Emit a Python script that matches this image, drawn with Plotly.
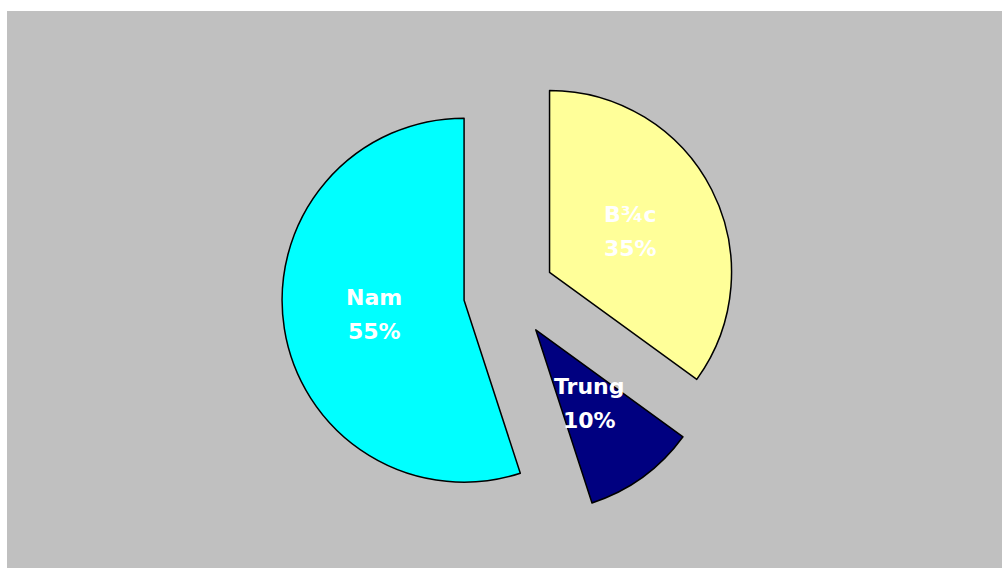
import math
import plotly.graph_objects as go

# Regional shares
regions = ["B¾c", "Trung", "Nam"]
shares = [35, 10, 55]
colors = ["#FFFF99", "#000080", "#00FFFF"]
pulls = [0.25, 0.25, 0.25]

W, H = 1002, 568
dom_x = [0.208, 0.808]
dom_y = [0.0836, 0.8846]

fig = go.Figure(
    go.Pie(
        labels=regions,
        values=shares,
        marker=dict(colors=colors, line=dict(color="black", width=1.5)),
        pull=pulls,
        sort=False,
        direction="clockwise",
        rotation=0,
        textinfo="none",
        hoverinfo="label+percent",
        domain=dict(x=dom_x, y=dom_y),
        showlegend=False,
    )
)

# Label placement follows the pie geometry: centre, radius and slice bisectors
cx = (dom_x[0] + dom_x[1]) / 2 * W
cy = (1 - (dom_y[0] + dom_y[1]) / 2) * H
r = min((dom_x[1] - dom_x[0]) * W, (dom_y[1] - dom_y[0]) * H) / (2 * (1 + max(pulls)))
total = sum(shares)
start = 90.0
font = dict(family="DejaVu Sans", size=22, color="white", weight="bold")
annotations = []
for name, v, p in zip(regions, shares, pulls):
    span = 360.0 * v / total
    mid = math.radians(start - span / 2)
    start -= span
    dist = r * (p + 0.5)
    px = cx + dist * math.cos(mid)
    py = cy - dist * math.sin(mid)
    pct = f"{round(100 * v / total)}%"
    for txt, shift in ((name, 17), (pct, -17)):
        annotations.append(
            dict(
                x=px / W, y=1 - py / H, xref="paper", yref="paper",
                text=txt, showarrow=False, font=font,
                xanchor="center", yanchor="middle", yshift=shift,
            )
        )

fig.update_layout(
    width=W,
    height=H,
    margin=dict(l=0, r=0, t=0, b=0),
    paper_bgcolor="white",
    shapes=[
        dict(
            type="rect", xref="paper", yref="paper",
            x0=7 / W, x1=1, y0=0, y1=1 - 11 / H,
            fillcolor="#C0C0C0", line=dict(width=0), layer="below",
        )
    ],
    annotations=annotations,
)

fig.write_html("out.html")
